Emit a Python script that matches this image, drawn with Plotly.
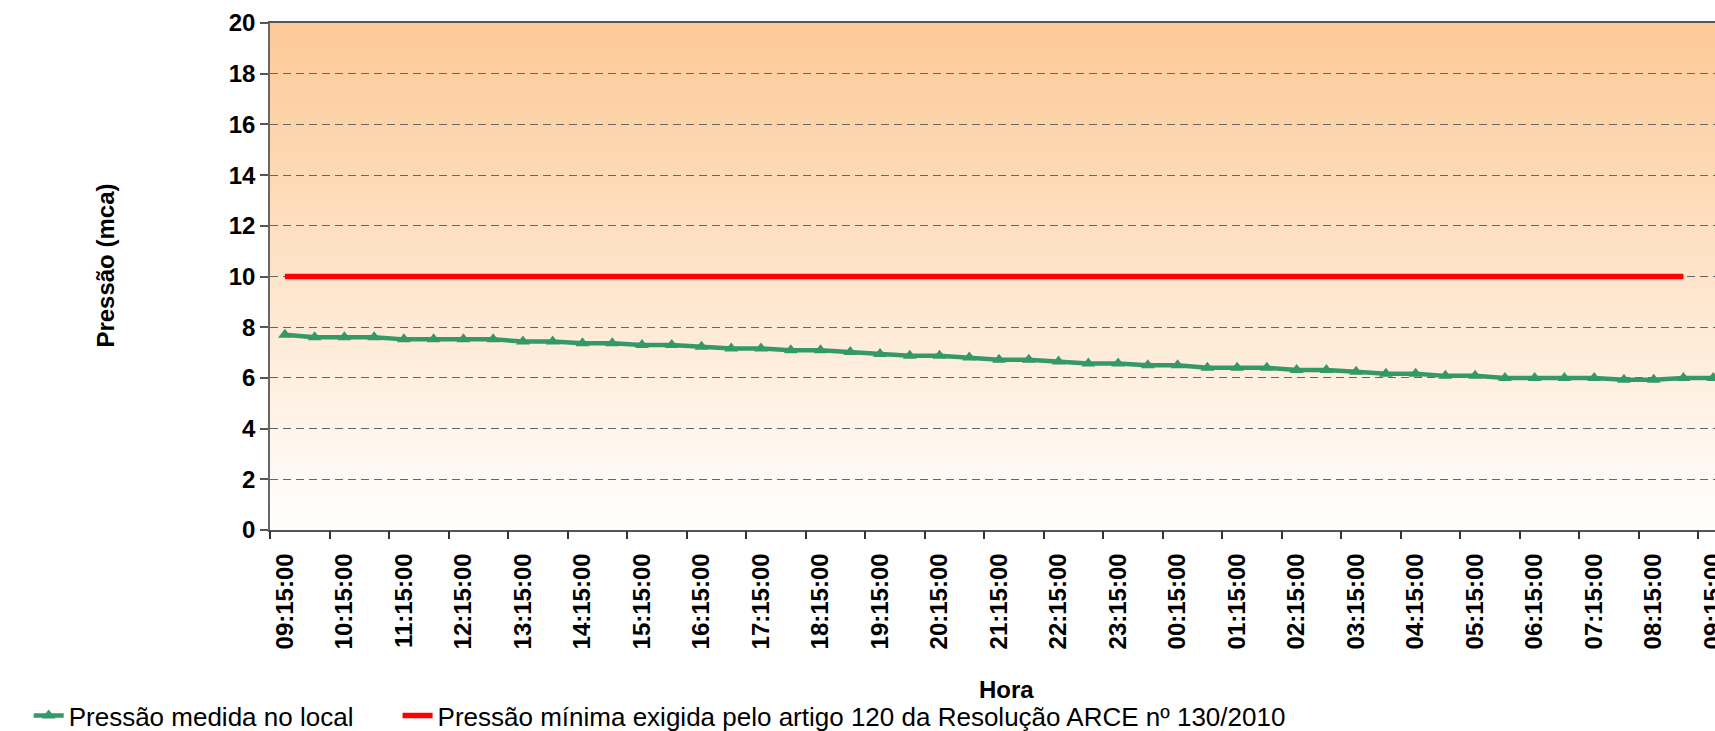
import plotly.graph_objects as go

# ---- data ----
hora = [
    "09:15:00", "09:45:00", "10:15:00", "10:45:00", "11:15:00", "11:45:00",
    "12:15:00", "12:45:00", "13:15:00", "13:45:00", "14:15:00", "14:45:00",
    "15:15:00", "15:45:00", "16:15:00", "16:45:00", "17:15:00", "17:45:00",
    "18:15:00", "18:45:00", "19:15:00", "19:45:00", "20:15:00", "20:45:00",
    "21:15:00", "21:45:00", "22:15:00", "22:45:00", "23:15:00", "23:45:00",
    "00:15:00", "00:45:00", "01:15:00", "01:45:00", "02:15:00", "02:45:00",
    "03:15:00", "03:45:00", "04:15:00", "04:45:00", "05:15:00", "05:45:00",
    "06:15:00", "06:45:00", "07:15:00", "07:45:00", "08:15:00", "08:45:00",
    "09:15:00",
]
pressao_medida = [
    7.70, 7.60, 7.60, 7.60, 7.52, 7.52, 7.52, 7.52, 7.44, 7.44,
    7.37, 7.37, 7.30, 7.30, 7.23, 7.16, 7.16, 7.09, 7.09, 7.02,
    6.94, 6.87, 6.87, 6.80, 6.72, 6.72, 6.65, 6.57, 6.57, 6.50,
    6.50, 6.40, 6.40, 6.40, 6.31, 6.31, 6.24, 6.16, 6.16, 6.08,
    6.08, 6.00, 6.00, 6.00, 6.00, 5.93, 5.93, 6.00, 6.00,
]
pressao_minima = [
    10, 10, 10, 10, 10, 10, 10, 10, 10, 10, 10, 10,
    10, 10, 10, 10, 10, 10, 10, 10, 10, 10, 10, 10,
    10, 10, 10, 10, 10, 10, 10, 10, 10, 10, 10, 10,
    10, 10, 10, 10, 10, 10, 10, 10, 10, 10, 10, 10,
]
nome_medida = "Pressão medida no local"
nome_minima = "Pressão mínima exigida pelo artigo 120 da Resolução ARCE nº 130/2010"
y_ticks = [0, 2, 4, 6, 8, 10, 12, 14, 16, 18, 20]

# ---- figure ----
idx = list(range(len(hora)))
label_idx = idx[::2]
label_txt = [hora[i] for i in label_idx]
boundaries = [i - 0.5 for i in label_idx]
x_range = [-0.5, 48.06]

FONT = "Liberation Sans, Arial, Helvetica, sans-serif"

fig = go.Figure()
fig.add_trace(go.Scatter(
    x=idx, y=pressao_medida, name=nome_medida, mode="lines+markers",
    line=dict(color="#339966", width=4.5),
    marker=dict(symbol="triangle-up", size=12, color="#339966"),
    legend="legend",
))
fig.add_trace(go.Scatter(
    x=idx[:len(pressao_minima)], y=pressao_minima, name=nome_minima, mode="lines",
    line=dict(color="#FF0000", width=5.5),
    legend="legend2",
))

# vertical gradient background of the plot area (decoration)
n_bands = 100
top = (253, 201, 150)
bot = (255, 255, 255)
for k in range(n_bands):
    t = (k + 0.5) / n_bands
    c = tuple(round(bot[j] + (top[j] - bot[j]) * t) for j in range(3))
    fig.add_shape(type="rect", xref="x domain", yref="y domain",
                  x0=0, x1=1, y0=k / n_bands,
                  y1=min(1.0, (k + 1.6) / n_bands),
                  fillcolor="rgb(%d,%d,%d)" % c, line=dict(width=0),
                  layer="below")

legend_common = dict(orientation="h", xref="paper", yref="paper", y=-0.366,
                     yanchor="middle", xanchor="left",
                     font=dict(size=26, family=FONT), bgcolor="rgba(0,0,0,0)",
                     itemwidth=30)

fig.update_layout(
    width=1715, height=731,
    margin=dict(l=270, r=0, t=23, b=201, autoexpand=False),
    paper_bgcolor="white", plot_bgcolor="rgba(0,0,0,0)",
    font=dict(family=FONT, color="black", size=24),
    showlegend=True,
    legend=dict(x=-0.167, **legend_common),
    legend2=dict(x=0.0883, **legend_common),
    xaxis=dict(
        range=x_range, tickmode="array", tickvals=label_idx, ticktext=label_txt,
        tickangle=-90, ticks="", showgrid=False, zeroline=False,
        showline=True, linecolor="#555555", linewidth=1.5, mirror=True,
        tickfont=dict(size=24, weight="bold", family=FONT),
        ticklabelstandoff=12, ticklabeloverflow="allow",
    ),
    xaxis2=dict(
        overlaying="x", anchor="y", side="bottom", range=x_range,
        tickmode="array", tickvals=boundaries, ticks="outside", ticklen=8,
        tickcolor="#333333", tickwidth=1.5, showticklabels=False, showgrid=False,
        zeroline=False, showline=False,
    ),
    yaxis=dict(
        range=[0, 20], tickmode="array", tickvals=y_ticks, ticks="outside",
        ticklen=8, tickcolor="#555555", tickwidth=1.5,
        showgrid=True, gridcolor="#666666", gridwidth=1.2, griddash="8px,5px",
        zeroline=False, showline=True, linecolor="#666666", linewidth=1.5,
        tickfont=dict(size=24, weight="bold", family=FONT),
    ),
    annotations=[
        dict(text="Pressão (mca)", xref="paper", yref="paper", x=-0.114, y=0.522,
             textangle=-90, showarrow=False, xanchor="center", yanchor="middle",
             font=dict(size=24, weight="bold", family=FONT)),
        dict(text="Hora", xref="paper", yref="paper", x=0.51, y=-0.315,
             showarrow=False, xanchor="center", yanchor="middle",
             font=dict(size=24, weight="bold", family=FONT)),
    ],
)
# dummy trace to activate xaxis2
fig.add_trace(go.Scatter(x=[None], y=[None], xaxis="x2", showlegend=False, hoverinfo="skip"))

fig.write_html("out.html", config={"displayModeBar": False},
               post_script="document.body.style.margin='0';document.body.style.overflow='hidden';")
